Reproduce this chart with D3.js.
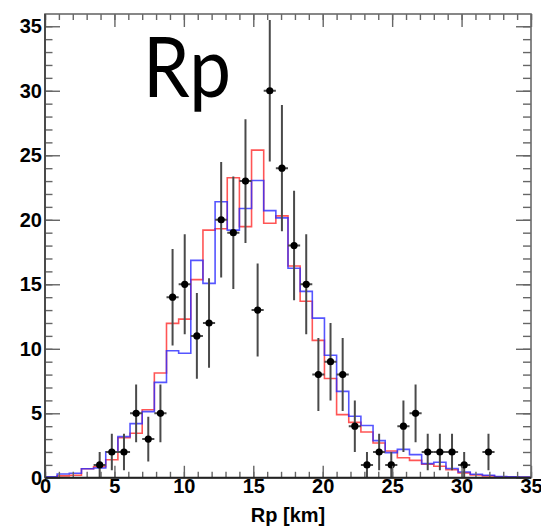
<!DOCTYPE html>
<html>
<head>
<meta charset="utf-8">
<script src="https://cdn.jsdelivr.net/npm/d3@7"></script>
<style>
  html, body { margin: 0; padding: 0; background: #fff; }
  svg { display: block; }
</style>
</head>
<body>
<svg id="chart" width="541" height="528"></svg>
<script>
// Histogram binning: 40 equal bins over 0–35 km
const xRange = [0, 35];
const nBins = 40;
const yRange = [0, 35.95];

// Observed counts per bin (points with sqrt(N) errors; empty bins not drawn)
const dataCounts = [
  0, 0, 0, 0, 1, 2, 2, 5, 3, 5,
  14, 15, 11, 12, 20, 19, 23, 13, 30, 24,
  18, 15, 8, 9, 8, 4, 1, 2, 1, 4,
  5, 2, 2, 2, 1, 0, 2, 0, 0, 0
];

// Expected counts per bin, red model
const modelRed = [
  0.03, 0.15, 0.2, 0.7, 0.86, 1.4, 3.1, 3.45, 5.28, 8.12,
  11.97, 12.3, 15.36, 19.2, 19.3, 23.26, 19.47, 25.4, 19.73, 20.3,
  16.42, 13.68, 10.65, 7.7, 4.9, 4.3, 3.55, 2.7, 2.08, 1.55,
  1.35, 1.05, 0.9, 0.62, 0.38, 0.22, 0.15, 0.08, 0.06, 0.04
];

// Expected counts per bin, blue model
const modelBlue = [
  0.08, 0.3, 0.35, 0.7, 0.76, 2.02, 3.19, 4.2, 5.13, 7.4,
  9.85, 9.65, 16.85, 15.07, 21.4, 19.2, 20.87, 23.05, 20.71, 20.15,
  16.24, 14.45, 12.38, 9.5, 6.7, 4.77, 4.05, 2.88, 1.95, 2.2,
  1.8, 1.1, 1.2, 0.72, 0.45, 0.28, 0.2, 0.1, 0.07, 0.05
];

const xMajorTicks = [0, 5, 10, 15, 20, 25, 30, 35];
const yMajorTicks = [0, 5, 10, 15, 20, 25, 30, 35];
const xMinorTicks = d3.range(0, 36, 1);
const yMinorTicks = d3.range(0, 36, 1);
const xTitle = "Rp [km]";
const panelLabel = "Rp";

const frame = { left: 45, right: 531, top: 14, bottom: 477.8 };
const svg = d3.select("#chart");

const x = d3.scaleLinear().domain(xRange).range([frame.left, frame.right]);
const y = d3.scaleLinear().domain(yRange).range([frame.bottom, frame.top]);

const binW = (xRange[1] - xRange[0]) / nBins;
const edges = d3.range(nBins + 1).map(i => xRange[0] + i * binW);
const centers = d3.range(nBins).map(i => xRange[0] + (i + 0.5) * binW);

svg.append("defs").append("clipPath").attr("id", "plotClip")
  .append("rect")
  .attr("x", frame.left).attr("y", frame.top)
  .attr("width", frame.right - frame.left)
  .attr("height", frame.bottom - frame.top);

// Step outline for a binned histogram
function stepPath(vals) {
  const pts = [[edges[0], 0]];
  vals.forEach((v, i) => { pts.push([edges[i], v]); pts.push([edges[i + 1], v]); });
  pts.push([edges[nBins], 0]);
  return d3.line().x(d => x(d[0])).y(d => y(d[1]))(pts);
}

const plot = svg.append("g").attr("clip-path", "url(#plotClip)");

plot.append("path")
  .attr("d", stepPath(modelRed))
  .attr("fill", "none")
  .attr("stroke", "#ff2a2a")
  .attr("stroke-opacity", 0.8)
  .attr("stroke-width", 1.6);

plot.append("path")
  .attr("d", stepPath(modelBlue))
  .attr("fill", "none")
  .attr("stroke", "#2a2aff")
  .attr("stroke-opacity", 0.8)
  .attr("stroke-width", 1.6);

// Data points with errors
const pts = dataCounts.map((c, i) => ({ c, i })).filter(d => d.c > 0);
const errG = plot.append("g").attr("stroke", "#4a4a4a").attr("stroke-width", 2);
errG.selectAll("line.v").data(pts).join("line")
  .attr("class", "v")
  .attr("x1", d => x(centers[d.i])).attr("x2", d => x(centers[d.i]))
  .attr("y1", d => y(d.c - Math.sqrt(d.c))).attr("y2", d => y(d.c + Math.sqrt(d.c)));
errG.selectAll("line.h").data(pts).join("line")
  .attr("class", "h")
  .attr("x1", d => x(edges[d.i])).attr("x2", d => x(edges[d.i + 1]))
  .attr("y1", d => y(d.c)).attr("y2", d => y(d.c));
plot.append("g").selectAll("circle").data(pts).join("circle")
  .attr("cx", d => x(centers[d.i]))
  .attr("cy", d => y(d.c))
  .attr("r", 3.6)
  .attr("fill", "#000");

// Axes: ticks drawn inward on all four sides
const tickColor = "#666";
const font = "'Liberation Sans', Arial, Helvetica, sans-serif";

function styleAxis(g, withLabels) {
  g.select(".domain").remove();
  g.selectAll(".tick line").attr("stroke", tickColor).attr("stroke-width", 1.4);
  if (withLabels) {
    g.selectAll(".tick text")
      .attr("fill", "#000")
      .style("font-family", font)
      .style("font-weight", "bold")
      .style("font-size", "20px");
  } else {
    g.selectAll(".tick text").remove();
  }
}

// bottom
svg.append("g").attr("transform", `translate(0,${frame.bottom})`)
  .call(d3.axisBottom(x).tickValues(xMinorTicks).tickSize(-6).tickFormat(""))
  .call(g => styleAxis(g, false));
svg.append("g").attr("transform", `translate(0,${frame.bottom})`)
  .call(d3.axisBottom(x).tickValues(xMajorTicks).tickSize(-12).tickPadding(1).tickFormat(d3.format("d")))
  .call(g => styleAxis(g, true));
// top
svg.append("g").attr("transform", `translate(0,${frame.top})`)
  .call(d3.axisTop(x).tickValues(xMinorTicks).tickSize(-6).tickFormat(""))
  .call(g => styleAxis(g, false));
svg.append("g").attr("transform", `translate(0,${frame.top})`)
  .call(d3.axisTop(x).tickValues(xMajorTicks).tickSize(-13).tickFormat(""))
  .call(g => styleAxis(g, false));
// left
svg.append("g").attr("transform", `translate(${frame.left},0)`)
  .call(d3.axisLeft(y).tickValues(yMinorTicks).tickSize(-7.5).tickFormat(""))
  .call(g => styleAxis(g, false));
svg.append("g").attr("transform", `translate(${frame.left},0)`)
  .call(d3.axisLeft(y).tickValues(yMajorTicks).tickSize(-15).tickPadding(3).tickFormat(d3.format("d")))
  .call(g => styleAxis(g, true));
// right
svg.append("g").attr("transform", `translate(${frame.right},0)`)
  .call(d3.axisRight(y).tickValues(yMinorTicks).tickSize(-8).tickFormat(""))
  .call(g => styleAxis(g, false));
svg.append("g").attr("transform", `translate(${frame.right},0)`)
  .call(d3.axisRight(y).tickValues(yMajorTicks).tickSize(-15).tickFormat(""))
  .call(g => styleAxis(g, false));

// Frame
svg.append("rect")
  .attr("x", frame.left).attr("y", frame.top)
  .attr("width", frame.right - frame.left)
  .attr("height", frame.bottom - frame.top)
  .attr("fill", "none")
  .attr("stroke", "#6a6a6a")
  .attr("stroke-width", 1.6);
svg.append("line")
  .attr("x1", frame.left).attr("x2", frame.right)
  .attr("y1", frame.bottom).attr("y2", frame.bottom)
  .attr("stroke", "#222").attr("stroke-width", 2);
svg.append("line")
  .attr("x1", frame.left).attr("x2", frame.left)
  .attr("y1", frame.top).attr("y2", frame.bottom)
  .attr("stroke", "#444").attr("stroke-width", 1.8);

// Axis title
svg.append("text")
  .attr("x", (frame.left + frame.right) / 2)
  .attr("y", 521.5)
  .attr("text-anchor", "middle")
  .style("font-family", font)
  .style("font-weight", "bold")
  .style("font-size", "20px")
  .text(xTitle);

// Panel label
svg.append("text")
  .attr("x", 143)
  .attr("y", 96.5)
  .attr("textLength", 88)
  .attr("lengthAdjust", "spacingAndGlyphs")
  .style("font-family", "Lato, 'Open Sans', sans-serif")
  .style("font-size", "84px")
  .text(panelLabel);
</script>
</body>
</html>
